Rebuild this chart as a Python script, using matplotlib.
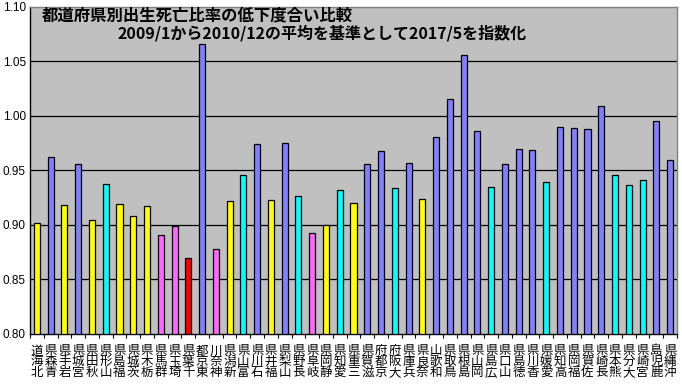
import matplotlib.pyplot as plt
import numpy as np

plt.rcParams['font.family'] = ['Noto Sans CJK JP', 'DejaVu Sans']

prefs = ['北海道', '青森県', '岩手県', '宮城県', '秋田県', '山形県', '福島県', '茨城県',
         '栃木県', '群馬県', '埼玉県', '千葉県', '東京都', '神奈川', '新潟県', '富山県',
         '石川県', '福井県', '山梨県', '長野県', '岐阜県', '静岡県', '愛知県', '三重県',
         '滋賀県', '京都府', '大阪府', '兵庫県', '奈良県', '和歌山', '鳥取県', '島根県',
         '岡山県', '広島県', '山口県', '徳島県', '香川県', '愛媛県', '高知県', '福岡県',
         '佐賀県', '長崎県', '熊本県', '大分県', '宮崎県', '鹿児島', '沖縄県']
values = [0.902, 0.962, 0.918, 0.956, 0.905, 0.938, 0.919, 0.908,
          0.917, 0.891, 0.899, 0.870, 1.066, 0.878, 0.922, 0.946,
          0.974, 0.923, 0.975, 0.927, 0.893, 0.900, 0.932, 0.920,
          0.956, 0.968, 0.934, 0.957, 0.924, 0.981, 1.016, 1.056,
          0.986, 0.935, 0.956, 0.970, 0.969, 0.939, 0.990, 0.989,
          0.988, 1.009, 0.946, 0.937, 0.941, 0.995, 0.960]
groups = ['y', 'b', 'y', 'b', 'y', 'c', 'y', 'y',
          'y', 'p', 'p', 'r', 'b', 'p', 'y', 'c',
          'b', 'y', 'b', 'c', 'p', 'y', 'c', 'y',
          'b', 'b', 'c', 'b', 'y', 'b', 'b', 'b',
          'b', 'c', 'b', 'b', 'b', 'c', 'b', 'b',
          'b', 'b', 'c', 'c', 'c', 'b', 'b']
palette = {'y': '#FFFF00', 'b': '#7F7FFF', 'c': '#00FFFF', 'p': '#FF66FF', 'r': '#FF0000'}

fig = plt.figure(figsize=(6.82, 3.84), dpi=100)
ax = fig.add_axes([30 / 682, 50 / 384, 647 / 682, 327 / 384])
ax.set_facecolor('#C0C0C0')

x = np.arange(len(prefs))
ax.bar(x, [v - 0.8 for v in values], bottom=0.8, width=0.44,
       color=[palette[g] for g in groups], edgecolor='black', linewidth=0.9, zorder=3)

ax.set_xlim(-0.5, len(prefs) - 0.5)
ax.set_ylim(0.80, 1.10)
ax.set_yticks(np.arange(0.80, 1.101, 0.05))
ax.set_yticklabels(['%.2f' % t for t in np.arange(0.80, 1.101, 0.05)],
                   family='Liberation Sans', fontsize=8.5)
for t in np.arange(0.85, 1.06, 0.05):
    ax.axhline(t, color='black', linewidth=0.9, zorder=1)
ax.tick_params(axis='y', length=0, pad=3)

ax.set_xticks(np.arange(-0.5, len(prefs), 1.0))
ax.set_xticklabels([])
ax.tick_params(axis='x', length=3, direction='out', width=0.8)

# vertical labels: characters upright, read bottom to top
for i, name in enumerate(prefs):
    ax.text(i, -0.032, '\n'.join(name[::-1]), transform=ax.get_xaxis_transform(),
            ha='center', va='top', fontsize=9, linespacing=0.76)

for s in ['left', 'bottom']:
    ax.spines[s].set_color('black')
    ax.spines[s].set_linewidth(1.0)
for s in ['top', 'right']:
    ax.spines[s].set_color('#808080')
    ax.spines[s].set_linewidth(1.0)

ax.text(42, 369, '都道府県別出生死亡比率の低下度合い比較', transform=None,
        fontsize=11.8, fontweight='bold', ha='left', va='center')
ax.text(117, 351, '2009/1から2010/12の平均を基準として2017/5を指数化', transform=None,
        fontsize=11.5, fontweight='bold', ha='left', va='center')

fig.savefig('out.png', dpi=100)
